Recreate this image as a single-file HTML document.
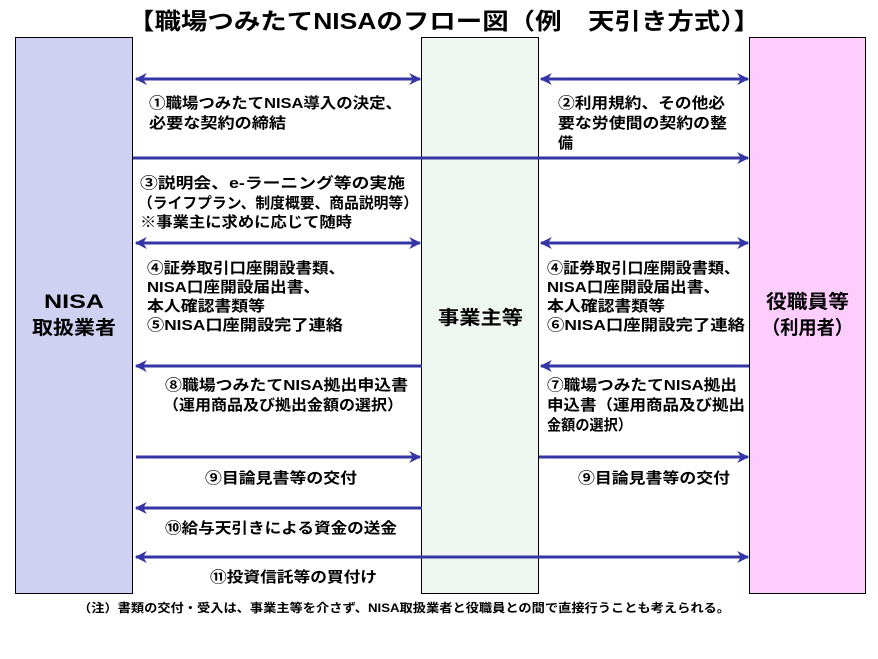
<!DOCTYPE html>
<html><head><meta charset="utf-8"><style>
body{margin:0;background:#fff;width:878px;height:654px;overflow:hidden}
svg text{font-family:"Liberation Sans","Noto Sans CJK JP",sans-serif;font-weight:bold;fill:#000}
</style></head><body>
<svg width="878" height="654" xmlns="http://www.w3.org/2000/svg">
<defs>
<marker id="a" viewBox="0 0 10 10" refX="9" refY="5" markerWidth="4" markerHeight="4" orient="auto-start-reverse"><path d="M0,0 L10,5 L0,10 L3,5 z" fill="#3535a5"/></marker>
</defs>
<text x="128" y="29" font-size="23" textLength="632" lengthAdjust="spacingAndGlyphs">【職場つみたてNISAのフロー図（例　天引き方式）】</text>
<rect x="15.5" y="37.5" width="117" height="556" fill="#d0d0f2" stroke="#000"/>
<rect x="421.5" y="37.5" width="117" height="556" fill="#eef8f1" stroke="#000"/>
<rect x="749.5" y="37.5" width="116" height="556" fill="#fdcdfd" stroke="#000"/>
<g stroke="#3535a5" stroke-width="3" fill="none">
<line x1="136" y1="79" x2="420" y2="79" marker-start="url(#a)" marker-end="url(#a)"/>
<line x1="541" y1="79" x2="748" y2="79" marker-start="url(#a)" marker-end="url(#a)"/>
<line x1="133" y1="158" x2="748" y2="158" marker-end="url(#a)"/>
<line x1="136" y1="243" x2="420" y2="243" marker-start="url(#a)" marker-end="url(#a)"/>
<line x1="541" y1="243" x2="748" y2="243" marker-start="url(#a)" marker-end="url(#a)"/>
<line x1="422" y1="366" x2="136" y2="366" marker-end="url(#a)"/>
<line x1="749" y1="366" x2="541" y2="366" marker-end="url(#a)"/>
<line x1="136" y1="457" x2="420" y2="457" marker-end="url(#a)"/>
<line x1="539" y1="457" x2="748" y2="457" marker-end="url(#a)"/>
<line x1="422" y1="508" x2="136" y2="508" marker-end="url(#a)"/>
<line x1="136" y1="557" x2="748" y2="557" marker-start="url(#a)" marker-end="url(#a)"/>
</g>
<g font-size="15" lengthAdjust="spacingAndGlyphs">
<text x="149" y="108" textLength="253" lengthAdjust="spacingAndGlyphs">①職場つみたてNISA導入の決定、</text>
<text x="149" y="128" textLength="137" lengthAdjust="spacingAndGlyphs">必要な契約の締結</text>
<text x="558" y="108" textLength="167" lengthAdjust="spacingAndGlyphs">②利用規約、その他必</text>
<text x="558" y="128" textLength="169" lengthAdjust="spacingAndGlyphs">要な労使間の契約の整</text>
<text x="558" y="148">備</text>
<text x="140" y="188" textLength="265" lengthAdjust="spacingAndGlyphs">③説明会、e-ラーニング等の実施</text>
<text x="138" y="208" textLength="280" lengthAdjust="spacingAndGlyphs">（ライフプラン、制度概要、商品説明等）</text>
<text x="140" y="227" textLength="212" lengthAdjust="spacingAndGlyphs">※事業主に求めに応じて随時</text>
<text x="147" y="273" textLength="198" lengthAdjust="spacingAndGlyphs">④証券取引口座開設書類、</text>
<text x="147" y="292" textLength="173" lengthAdjust="spacingAndGlyphs">NISA口座開設届出書、</text>
<text x="147" y="311" textLength="118" lengthAdjust="spacingAndGlyphs">本人確認書類等</text>
<text x="147" y="330" textLength="196" lengthAdjust="spacingAndGlyphs">⑤NISA口座開設完了連絡</text>
<text x="547" y="273" textLength="193" lengthAdjust="spacingAndGlyphs">④証券取引口座開設書類、</text>
<text x="547" y="292" textLength="173" lengthAdjust="spacingAndGlyphs">NISA口座開設届出書、</text>
<text x="547" y="311" textLength="118" lengthAdjust="spacingAndGlyphs">本人確認書類等</text>
<text x="547" y="330" textLength="198" lengthAdjust="spacingAndGlyphs">⑥NISA口座開設完了連絡</text>
<text x="165" y="390" textLength="243" lengthAdjust="spacingAndGlyphs">⑧職場つみたてNISA拠出申込書</text>
<text x="163" y="410" textLength="240" lengthAdjust="spacingAndGlyphs">（運用商品及び拠出金額の選択）</text>
<text x="547" y="390" textLength="190" lengthAdjust="spacingAndGlyphs">⑦職場つみたてNISA拠出</text>
<text x="547" y="410" textLength="198" lengthAdjust="spacingAndGlyphs">申込書（運用商品及び拠出</text>
<text x="547" y="430" textLength="85" lengthAdjust="spacingAndGlyphs">金額の選択）</text>
<text x="205" y="483" textLength="152" lengthAdjust="spacingAndGlyphs">⑨目論見書等の交付</text>
<text x="578" y="483" textLength="152" lengthAdjust="spacingAndGlyphs">⑨目論見書等の交付</text>
<text x="165" y="533" textLength="232" lengthAdjust="spacingAndGlyphs">⑩給与天引きによる資金の送金</text>
<text x="210" y="582" textLength="167" lengthAdjust="spacingAndGlyphs">⑪投資信託等の買付け</text>
</g>
<g font-size="19">
<text x="44" y="308" textLength="60" lengthAdjust="spacingAndGlyphs">NISA</text>
<text x="32" y="334" textLength="84" lengthAdjust="spacingAndGlyphs">取扱業者</text>
<text x="438" y="324" textLength="85" lengthAdjust="spacingAndGlyphs">事業主等</text>
<text x="766" y="308" textLength="83" lengthAdjust="spacingAndGlyphs">役職員等</text>
<text x="762" y="334" textLength="91" lengthAdjust="spacingAndGlyphs">（利用者）</text>
</g>
<text x="78" y="612" font-size="12" textLength="652" lengthAdjust="spacingAndGlyphs">（注）書類の交付・受入は、事業主等を介さず、NISA取扱業者と役職員との間で直接行うことも考えられる。</text>
</svg>
</body></html>
